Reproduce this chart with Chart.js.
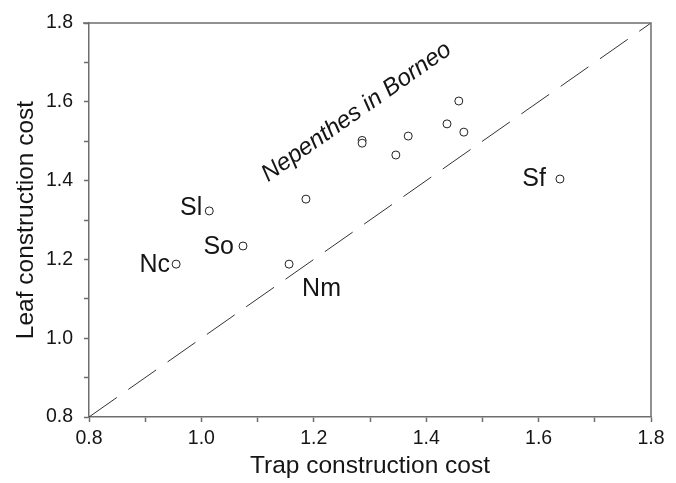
<!DOCTYPE html>
<html><head><meta charset="utf-8">
<script src="https://cdn.jsdelivr.net/npm/chart.js@4/dist/chart.umd.min.js"></script>
<style>html,body{margin:0;padding:0;background:#fff}#wrap{width:676px;height:483px}</style>
</head><body><div id="wrap"><canvas id="c" width="676" height="483"></canvas></div>
<script>
// ---- data ----
const trapCost = [0.955, 1.014, 1.074, 1.156, 1.186, 1.286, 1.286, 1.346, 1.368, 1.437, 1.458, 1.467, 1.638];
const leafCost = [1.188, 1.323, 1.234, 1.188, 1.353, 1.502, 1.495, 1.465, 1.513, 1.544, 1.602, 1.523, 1.404];
const speciesLabels = ['Nc', 'Sl', 'So', 'Nm', '', '', '', '', '', '', '', '', 'Sf'];
const oneToOneX = [0.8, 1.8];
const oneToOneY = [0.8, 1.8];
const axisMin = 0.8, axisMax = 1.8;
const majorTickStep = 0.2, minorTickStep = 0.1;
const annotationText = 'Nepenthes in Borneo';
const annotationAt = {x: 1.276, y: 1.574};
const xTitle = 'Trap construction cost';
const yTitle = 'Leaf construction cost';

// ---- styles ----
const FONT = "'Liberation Sans', Arial, sans-serif";
const TEXT = '#151515';
const AXIS = '#6e6e6e';
const labelStyle = {
  Nc: {dx: -6, dy: 1, align: 'right'},
  Sl: {dx: -7, dy: -3, align: 'right'},
  So: {dx: -9, dy: 1, align: 'right'},
  Nm: {dx: 13, dy: 25, align: 'left'},
  Sf: {dx: -14, dy: 0, align: 'right'}
};

const frameAndText = {
  id: 'frameAndText',
  afterDatasetsDraw(chart) {
    const {ctx, chartArea: a, scales: {x, y}} = chart;
    ctx.save();
    ctx.strokeStyle = AXIS; ctx.lineWidth = 1.5;
    ctx.beginPath();
    ctx.moveTo(a.left - 6, a.top); ctx.lineTo(a.right, a.top); ctx.lineTo(a.right, a.bottom);
    ctx.stroke();
    ctx.fillStyle = TEXT;
    ctx.font = "25px " + FONT;
    ctx.textBaseline = 'middle';
    speciesLabels.forEach((lab, i) => {
      if (!lab) return;
      const st = labelStyle[lab];
      ctx.textAlign = st.align;
      ctx.fillText(lab, x.getPixelForValue(trapCost[i]) + st.dx, y.getPixelForValue(leafCost[i]) + st.dy);
    });
    const px = x.getPixelForValue(annotationAt.x), py = y.getPixelForValue(annotationAt.y);
    const ang = Math.atan2(y.getPixelForValue(axisMax) - y.getPixelForValue(axisMin), x.getPixelForValue(axisMax) - x.getPixelForValue(axisMin));
    ctx.translate(px, py); ctx.rotate(ang);
    ctx.font = "italic 24px " + FONT;
    ctx.textAlign = 'center';
    ctx.fillText(annotationText, 0, 0);
    ctx.restore();
  }
};

const axisCommon = (title, isX) => ({
  type: 'linear', min: axisMin, max: axisMax,
  afterBuildTicks(s) {
    const t = [];
    for (let v = axisMin; v <= axisMax + 1e-9; v += minorTickStep) t.push({value: Math.round(v * 10) / 10});
    s.ticks = t;
  },
  afterFit(s) { if (isX) s.height = 66; else s.width = 89; },
  ticks: {
    color: TEXT, font: {family: FONT, size: 19.5}, padding: isX ? 5 : 11, maxRotation: 0, autoSkip: false,
    callback: (v) => (Math.abs(Math.round(v / majorTickStep) * majorTickStep - v) < 1e-6) ? v.toFixed(1) : ''
  },
  grid: {drawOnChartArea: false, drawTicks: true, tickLength: 5, color: AXIS, tickWidth: 1.5},
  border: {display: true, color: AXIS, width: 1.5},
  title: {display: true, text: title, color: TEXT, font: {family: FONT, size: 24.5}, padding: isX ? {top: 0, bottom: 2} : {top: 12, bottom: 0}}
});

new Chart(document.getElementById('c'), {
  type: 'scatter',
  data: {
    datasets: [
      {
        data: trapCost.map((v, i) => ({x: v, y: leafCost[i]})),
        pointRadius: 4, pointBorderWidth: 1, pointBorderColor: '#222', pointBackgroundColor: '#fff', showLine: false
      },
      {
        type: 'line',
        data: oneToOneX.map((v, i) => ({x: v, y: oneToOneY[i]})),
        borderColor: '#333', borderWidth: 1, borderDash: [34, 14], pointRadius: 0, fill: false
      }
    ]
  },
  options: {
    responsive: false, animation: false, devicePixelRatio: 1,
    layout: {padding: {top: 23, right: 25, left: 0, bottom: 0}},
    plugins: {legend: {display: false}, tooltip: {enabled: false}},
    scales: {x: axisCommon(xTitle, true), y: axisCommon(yTitle, false)}
  },
  plugins: [frameAndText]
});
</script>
</body></html>
